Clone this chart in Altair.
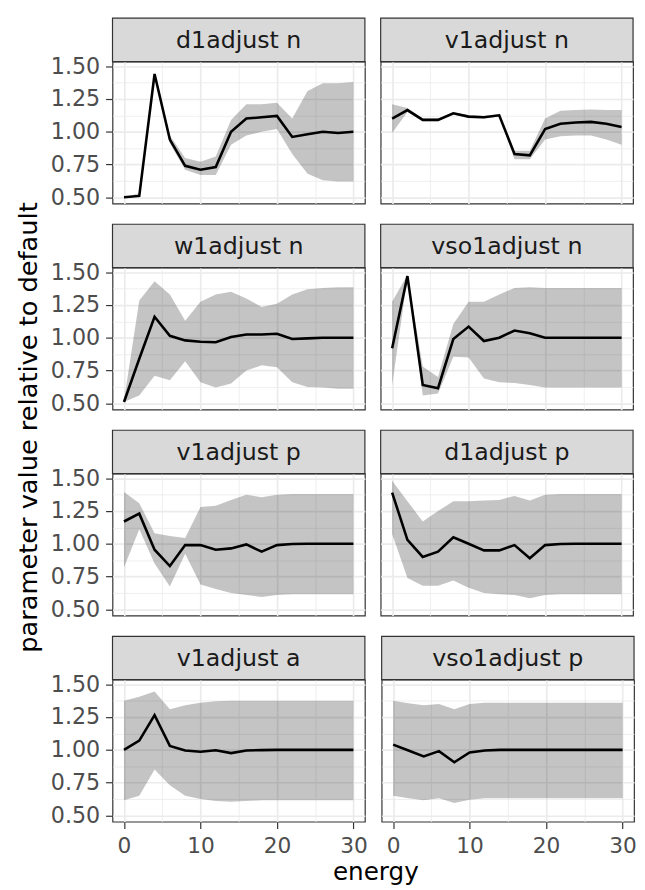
import altair as alt
import pandas as pd

energy = [0, 2, 4, 6, 8, 10, 12, 14, 16, 18, 20, 22, 24, 26, 28, 30]

panels = ["d1adjust n", "v1adjust n", "w1adjust n", "vso1adjust n",
          "v1adjust p", "d1adjust p", "v1adjust a", "vso1adjust p"]

d1n_mid = [0.50, 0.51, 1.44, 0.94, 0.74, 0.71, 0.73, 1.00, 1.10, 1.11, 1.12, 0.96, 0.98, 1.00, 0.99, 1.00]
d1n_lo = [0.50, 0.50, 1.43, 0.91, 0.71, 0.67, 0.67, 0.90, 0.97, 1.00, 1.02, 0.83, 0.68, 0.63, 0.62, 0.62]
d1n_hi = [0.50, 0.53, 1.45, 0.97, 0.80, 0.77, 0.81, 1.09, 1.21, 1.21, 1.22, 1.10, 1.31, 1.37, 1.37, 1.38]

v1n_mid = [1.10, 1.165, 1.09, 1.09, 1.14, 1.115, 1.11, 1.125, 0.83, 0.82, 1.02, 1.06, 1.07, 1.075, 1.06, 1.035]
v1n_lo = [0.99, 1.15, 1.08, 1.08, 1.13, 1.105, 1.10, 1.115, 0.79, 0.79, 0.94, 0.965, 0.97, 0.97, 0.94, 0.90]
v1n_hi = [1.21, 1.18, 1.10, 1.10, 1.15, 1.125, 1.12, 1.135, 0.855, 0.855, 1.10, 1.16, 1.165, 1.17, 1.165, 1.165]

w1n_mid = [0.51, 0.84, 1.16, 1.015, 0.98, 0.97, 0.965, 1.005, 1.025, 1.025, 1.03, 0.99, 0.995, 1.0, 1.0, 1.0]
w1n_lo = [0.51, 0.56, 0.71, 0.675, 0.82, 0.66, 0.62, 0.65, 0.75, 0.79, 0.775, 0.66, 0.625, 0.62, 0.61, 0.61]
w1n_hi = [0.52, 1.285, 1.43, 1.33, 1.13, 1.275, 1.33, 1.35, 1.30, 1.235, 1.26, 1.33, 1.37, 1.38, 1.385, 1.385]

vso1n_mid = [0.92, 1.47, 0.64, 0.615, 0.99, 1.085, 0.975, 1.0, 1.055, 1.035, 1.0, 1.0, 1.0, 1.0, 1.0, 1.0]
vso1n_lo = [0.64, 1.46, 0.56, 0.575, 0.855, 0.85, 0.69, 0.66, 0.655, 0.64, 0.62, 0.62, 0.62, 0.62, 0.62, 0.62]
vso1n_hi = [1.275, 1.48, 0.78, 0.70, 1.105, 1.275, 1.275, 1.33, 1.38, 1.385, 1.38, 1.38, 1.38, 1.38, 1.38, 1.38]

v1p_mid = [1.17, 1.23, 0.955, 0.83, 0.99, 0.99, 0.955, 0.965, 0.995, 0.94, 0.99, 0.998, 1.0, 1.0, 1.0, 1.0]
v1p_lo = [0.82, 1.11, 0.85, 0.675, 0.925, 0.69, 0.655, 0.625, 0.61, 0.595, 0.61, 0.615, 0.615, 0.615, 0.615, 0.615]
v1p_hi = [1.395, 1.31, 1.08, 1.06, 1.045, 1.28, 1.29, 1.335, 1.375, 1.355, 1.375, 1.38, 1.38, 1.38, 1.38, 1.38]

d1p_mid = [1.39, 1.03, 0.90, 0.94, 1.05, 1.00, 0.95, 0.95, 0.99, 0.89, 0.99, 0.998, 1.0, 1.0, 1.0, 1.0]
d1p_lo = [1.075, 0.74, 0.68, 0.68, 0.72, 0.665, 0.625, 0.615, 0.61, 0.585, 0.61, 0.615, 0.615, 0.615, 0.615, 0.615]
d1p_hi = [1.48, 1.325, 1.17, 1.25, 1.325, 1.325, 1.33, 1.335, 1.365, 1.33, 1.375, 1.38, 1.38, 1.38, 1.38, 1.38]

v1a_mid = [1.0, 1.07, 1.265, 1.03, 0.995, 0.985, 0.997, 0.975, 0.995, 0.998, 1.0, 1.0, 1.0, 1.0, 1.0, 1.0]
v1a_lo = [0.615, 0.65, 0.85, 0.73, 0.65, 0.625, 0.61, 0.605, 0.61, 0.615, 0.615, 0.615, 0.615, 0.615, 0.615, 0.615]
v1a_hi = [1.375, 1.405, 1.445, 1.31, 1.34, 1.36, 1.37, 1.375, 1.375, 1.375, 1.375, 1.375, 1.375, 1.375, 1.375, 1.375]

vso1p_mid = [1.04, 0.995, 0.95, 0.99, 0.905, 0.98, 0.995, 1.0, 1.0, 1.0, 1.0, 1.0, 1.0, 1.0, 1.0, 1.0]
vso1p_lo = [0.65, 0.63, 0.615, 0.63, 0.595, 0.62, 0.63, 0.63, 0.63, 0.63, 0.63, 0.63, 0.63, 0.63, 0.63, 0.63]
vso1p_hi = [1.375, 1.355, 1.34, 1.35, 1.31, 1.35, 1.36, 1.36, 1.36, 1.36, 1.36, 1.36, 1.36, 1.36, 1.36, 1.36]

series = {
    "d1adjust n": (d1n_mid, d1n_lo, d1n_hi),
    "v1adjust n": (v1n_mid, v1n_lo, v1n_hi),
    "w1adjust n": (w1n_mid, w1n_lo, w1n_hi),
    "vso1adjust n": (vso1n_mid, vso1n_lo, vso1n_hi),
    "v1adjust p": (v1p_mid, v1p_lo, v1p_hi),
    "d1adjust p": (d1p_mid, d1p_lo, d1p_hi),
    "v1adjust a": (v1a_mid, v1a_lo, v1a_hi),
    "vso1adjust p": (vso1p_mid, vso1p_lo, vso1p_hi),
}

x_ticks = [0, 5, 10, 15, 20, 25, 30]
y_ticks = [0.5, 0.625, 0.75, 0.875, 1.0, 1.125, 1.25, 1.375, 1.5]

rows = []
for p in panels:
    m, l, h = series[p]
    for e, a, b, c in zip(energy, m, l, h):
        rows.append({"panel": p, "energy": e, "mid": a, "lo": b, "hi": c})
df = pd.DataFrame(rows)

W, H, STRIP = 256, 144, 44
GRID = "#EBEBEB"
DARK = "#333333"

x_major = "datum.value % 10 === 0"
y_major = "abs(datum.value * 4 - round(datum.value * 4)) < 0.001"

xscale = alt.Scale(domain=[-1.5, 31.5], nice=False, zero=False)
yscale = alt.Scale(domain=[0.452, 1.535], nice=False, zero=False)


def make_panel(name, show_x, show_y):
    xaxis = alt.Axis(
        values=x_ticks, title=None, domain=False, grid=True, gridColor=GRID,
        gridWidth={"condition": {"test": x_major, "value": 1.7}, "value": 0.8},
        labels=show_x, ticks=show_x, tickSize=7, tickColor=DARK, tickWidth=1.2,
        tickOpacity={"condition": {"test": x_major, "value": 1}, "value": 0},
        labelExpr="datum.value % 10 === 0 ? datum.label : ''",
        labelFontSize=22, labelColor="#4D4D4D", labelPadding=7,
        labelFlush=False, labelOverlap=False,
    )
    yaxis = alt.Axis(
        values=y_ticks, title=None, domain=False, grid=True, gridColor=GRID,
        gridWidth={"condition": {"test": y_major, "value": 1.7}, "value": 0.8},
        labels=show_y, ticks=show_y, tickSize=7, tickColor=DARK, tickWidth=1.2,
        tickOpacity={"condition": {"test": y_major, "value": 1}, "value": 0},
        labelExpr=y_major + " ? format(datum.value, '.2f') : ''",
        labelFontSize=22.5, labelColor="#4D4D4D", labelPadding=6,
        labelFlush=False, labelOverlap=False,
    )
    base = alt.Chart(df).transform_filter(alt.datum.panel == name).encode(
        x=alt.X("energy:Q", scale=xscale, axis=xaxis)
    )
    area = base.mark_area(color="#000000", opacity=0.23).encode(
        y=alt.Y("lo:Q", scale=yscale, axis=yaxis), y2="hi:Q"
    )
    line = base.mark_line(color="#000000", strokeWidth=2.6).encode(
        y=alt.Y("mid:Q", scale=yscale, axis=yaxis)
    )
    sdata = pd.DataFrame({"panel": [name]})
    strip = alt.Chart(sdata).mark_rect(
        fill="#D9D9D9", stroke=DARK, strokeWidth=1.2
    ).encode(
        x=alt.value(0), x2=alt.value(W), y=alt.value(-STRIP), y2=alt.value(0)
    )
    stext = alt.Chart(sdata).mark_text(
        fontSize=24, color="#1A1A1A", align="center", baseline="middle"
    ).encode(
        x=alt.value(W / 2), y=alt.value(-STRIP / 2 + 1), text="panel:N"
    )
    return alt.layer(area, line, strip, stext).properties(width=W, height=H)


grid_rows = []
for r in range(4):
    left = make_panel(panels[2 * r], r == 3, True)
    right = make_panel(panels[2 * r + 1], r == 3, False)
    grid_rows.append(alt.hconcat(left, right, spacing=12))

inner = alt.vconcat(*grid_rows, spacing=13).properties(
    title=alt.TitleParams("energy", orient="bottom", anchor="middle",
                          fontSize=25, fontWeight="normal", color="#000000",
                          offset=4, dx=33)
)
chart = alt.vconcat(inner).properties(
    title=alt.TitleParams("parameter value relative to default", orient="left",
                          anchor="middle", fontSize=26, fontWeight="normal",
                          color="#000000", offset=8, dx=24),
    padding={"left": 8, "top": 2, "right": 0, "bottom": 0},
).configure(font="DejaVu Sans").configure_view(
    stroke=DARK, strokeWidth=1.2
)

chart.save("out.html", embed_options={"renderer": "svg", "actions": False})
